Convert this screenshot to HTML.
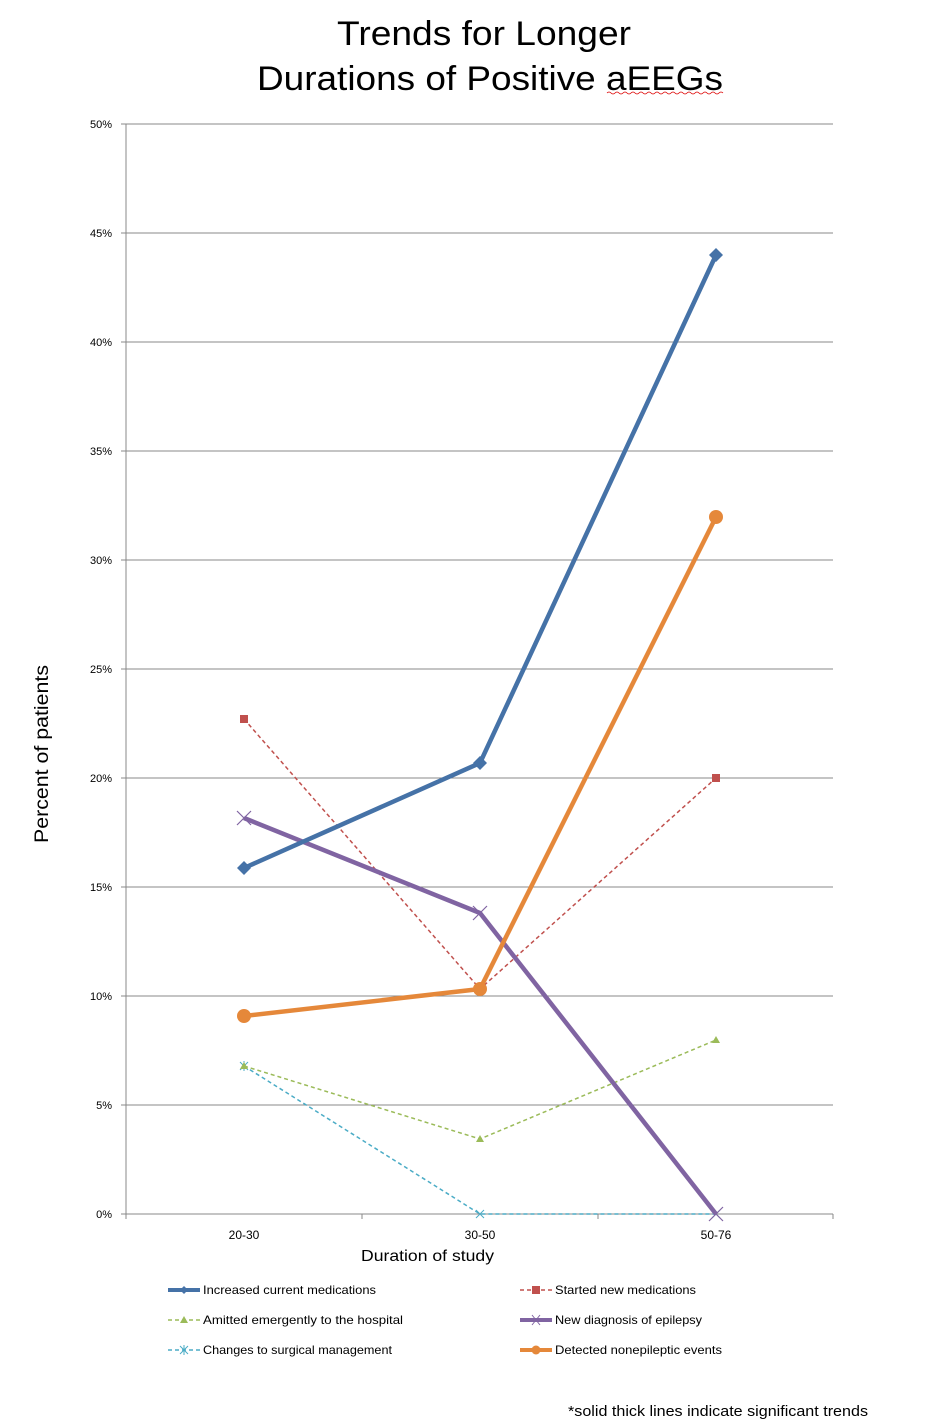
<!DOCTYPE html>
<html><head><meta charset="utf-8"><style>
html,body{margin:0;padding:0;background:#fff;}
svg{display:block;font-family:"Liberation Sans",sans-serif;}
</style></head><body>
<svg width="933" height="1425" viewBox="0 0 933 1425" xmlns="http://www.w3.org/2000/svg">
<text x="337" y="45" font-size="34" textLength="294" lengthAdjust="spacingAndGlyphs">Trends for Longer</text>
<text x="257" y="90" font-size="34" textLength="466" lengthAdjust="spacingAndGlyphs">Durations of Positive aEEGs</text>
<path d="M607 93 q2 -2 4 0 t4 0 t4 0 t4 0 t4 0 t4 0 t4 0 t4 0 t4 0 t4 0 t4 0 t4 0 t4 0 t4 0 t4 0 t4 0 t4 0 t4 0 t4 0 t4 0 t4 0 t4 0 t4 0 t4 0 t4 0 t4 0 t4 0 t4 0 t4 0" stroke="#d00" fill="none" stroke-width="0.8"/>
<g stroke="#888" stroke-width="1">
<line x1="126" y1="124" x2="833" y2="124"/>
<line x1="126" y1="233" x2="833" y2="233"/>
<line x1="126" y1="342" x2="833" y2="342"/>
<line x1="126" y1="451" x2="833" y2="451"/>
<line x1="126" y1="560" x2="833" y2="560"/>
<line x1="126" y1="669" x2="833" y2="669"/>
<line x1="126" y1="778" x2="833" y2="778"/>
<line x1="126" y1="887" x2="833" y2="887"/>
<line x1="126" y1="996" x2="833" y2="996"/>
<line x1="126" y1="1105" x2="833" y2="1105"/>
<line x1="126" y1="1214" x2="833" y2="1214"/>
<line x1="126" y1="124" x2="126" y2="1219"/>
<line x1="121" y1="124" x2="126" y2="124"/><line x1="121" y1="233" x2="126" y2="233"/><line x1="121" y1="342" x2="126" y2="342"/><line x1="121" y1="451" x2="126" y2="451"/><line x1="121" y1="560" x2="126" y2="560"/><line x1="121" y1="669" x2="126" y2="669"/><line x1="121" y1="778" x2="126" y2="778"/><line x1="121" y1="887" x2="126" y2="887"/><line x1="121" y1="996" x2="126" y2="996"/><line x1="121" y1="1105" x2="126" y2="1105"/><line x1="121" y1="1214" x2="126" y2="1214"/>
<line x1="362" y1="1214" x2="362" y2="1219"/><line x1="598" y1="1214" x2="598" y2="1219"/><line x1="833" y1="1214" x2="833" y2="1219"/>
</g>
<g font-size="11" text-anchor="end">
<text x="112" y="128">50%</text><text x="112" y="237">45%</text><text x="112" y="346">40%</text><text x="112" y="455">35%</text><text x="112" y="564">30%</text><text x="112" y="673">25%</text><text x="112" y="782">20%</text><text x="112" y="891">15%</text><text x="112" y="1000">10%</text><text x="112" y="1109">5%</text><text x="112" y="1218">0%</text>
</g>
<g font-size="12" text-anchor="middle">
<text x="244" y="1239">20-30</text><text x="480" y="1239">30-50</text><text x="716" y="1239">50-76</text>
</g>
<text x="361" y="1261" font-size="16" textLength="133" lengthAdjust="spacingAndGlyphs">Duration of study</text>
<text transform="translate(48,843) rotate(-90)" font-size="19" textLength="178" lengthAdjust="spacingAndGlyphs">Percent of patients</text>

<polyline points="244,1066 480,1214 716,1214" fill="none" stroke="#4bacc6" stroke-width="1.5" stroke-dasharray="4,3"/>
<g stroke="#4bacc6" stroke-width="1"><path d="M240 1062l8 8M248 1062l-8 8M244 1061v10M476 1210l8 8M484 1210l-8 8M712 1210l8 8M720 1210l-8 8"/></g>
<polyline points="244,1066 480,1139 716,1040" fill="none" stroke="#9bbb59" stroke-width="1.5" stroke-dasharray="4,3"/>
<g fill="#9bbb59"><path d="M244 1062l4 7h-8z"/><path d="M480 1135l4 7h-8z"/><path d="M716 1036l4 7h-8z"/></g>
<polyline points="244,719 480,989 716,778" fill="none" stroke="#c0504d" stroke-width="1.5" stroke-dasharray="4,3"/>
<g fill="#c0504d"><rect x="240" y="715" width="8" height="8"/><rect x="476" y="985" width="8" height="8"/><rect x="712" y="774" width="8" height="8"/></g>
<polyline points="244,818 480,913 716,1214" fill="none" stroke="#8064a2" stroke-width="4.5"/>
<g stroke="#8064a2" stroke-width="1.2"><path d="M237 811l14 14M251 811l-14 14M473 906l14 14M487 906l-14 14M709 1207l14 14M723 1207l-14 14"/></g>
<polyline points="244,1016 480,989 716,517" fill="none" stroke="#e5883a" stroke-width="4.5"/>
<g fill="#e5883a"><circle cx="244" cy="1016" r="7"/><circle cx="480" cy="989" r="7"/><circle cx="716" cy="517" r="7"/></g>
<polyline points="244,868 480,763 716,255" fill="none" stroke="#4572a7" stroke-width="4.5"/>
<g fill="#4572a7"><path d="M244 861l7 7-7 7-7-7z"/><path d="M480 756l7 7-7 7-7-7z"/><path d="M716 248l7 7-7 7-7-7z"/></g>

<g font-size="12">
<line x1="168" y1="1290" x2="200" y2="1290" stroke="#4572a7" stroke-width="4"/><path d="M184 1286l4 4-4 4-4-4z" fill="#4572a7"/>
<text x="203" y="1294" textLength="173" lengthAdjust="spacingAndGlyphs">Increased current medications</text>
<line x1="168" y1="1320" x2="200" y2="1320" stroke="#9bbb59" stroke-width="1.5" stroke-dasharray="4,3"/><path d="M184 1316l4 7h-8z" fill="#9bbb59"/>
<text x="203" y="1324" textLength="200" lengthAdjust="spacingAndGlyphs">Amitted emergently to the hospital</text>
<line x1="168" y1="1350" x2="200" y2="1350" stroke="#4bacc6" stroke-width="1.5" stroke-dasharray="4,3"/><path d="M180 1346l8 8M188 1346l-8 8M184 1345v10" stroke="#4bacc6"/>
<text x="203" y="1354" textLength="189" lengthAdjust="spacingAndGlyphs">Changes to surgical management</text>
<line x1="520" y1="1290" x2="552" y2="1290" stroke="#c0504d" stroke-width="1.5" stroke-dasharray="4,3"/><rect x="532" y="1286" width="8" height="8" fill="#c0504d"/>
<text x="555" y="1294" textLength="141" lengthAdjust="spacingAndGlyphs">Started new medications</text>
<line x1="520" y1="1320" x2="552" y2="1320" stroke="#8064a2" stroke-width="4"/><path d="M532 1315l8 10M540 1315l-8 10" stroke="#8064a2"/>
<text x="555" y="1324" textLength="147" lengthAdjust="spacingAndGlyphs">New diagnosis of epilepsy</text>
<line x1="520" y1="1350" x2="552" y2="1350" stroke="#e5883a" stroke-width="4"/><circle cx="536" cy="1350" r="4.5" fill="#e5883a"/>
<text x="555" y="1354" textLength="167" lengthAdjust="spacingAndGlyphs">Detected nonepileptic events</text>
</g>
<text x="568" y="1416" font-size="15" textLength="300" lengthAdjust="spacingAndGlyphs">*solid thick lines indicate significant trends</text>
</svg>
</body></html>
